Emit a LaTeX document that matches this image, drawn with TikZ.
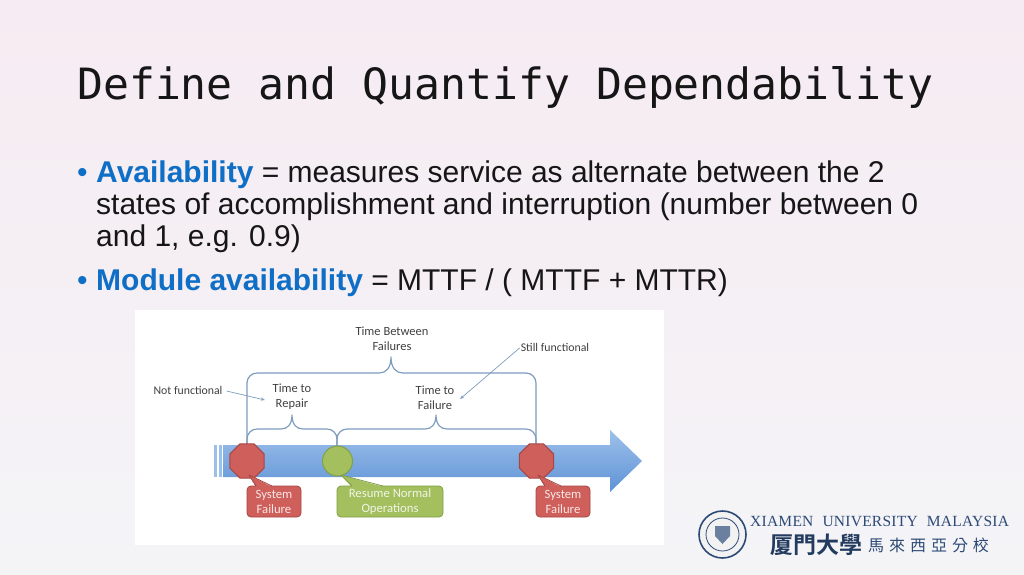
\documentclass[tikz,border=0pt]{standalone}
\usepackage{fontspec}
\setmainfont{Liberation Sans}
\newfontfamily\titlefont{DejaVu Sans Mono}
\newfontfamily\labelfont{Carlito}
\newfontfamily\logofont[LetterSpace=1.6]{Liberation Serif}
\newfontfamily\cjkbold{Noto Sans CJK TC Bold}
\newfontfamily\cjkthin[LetterSpace=31]{Noto Sans CJK TC}
\usepackage{xcolor}
\usepackage{tikz}
\usetikzlibrary{shapes.geometric, arrows.meta, positioning, calc}
\definecolor{bodyink}{HTML}{161616}
\definecolor{headblue}{HTML}{0F6FC6}
\definecolor{bracecol}{HTML}{7F9DBD}
\definecolor{failred}{HTML}{CE5F5B}
\definecolor{failedge}{HTML}{A64744}
\definecolor{resumegreen}{HTML}{A3BF5E}
\definecolor{resumeedge}{HTML}{82A046}
\definecolor{logoblue}{HTML}{2C4A76}
\definecolor{slidetop}{HTML}{F6EBF2}
\definecolor{slidebot}{HTML}{F4F4F7}
\definecolor{shafttop}{HTML}{9DC0EA}
\definecolor{shaftbot}{HTML}{5F93D6}
\tikzset{
  bodyline/.style={anchor=base west, inner sep=0pt, text=bodyink,
                font=\fontsize{30}{30}\selectfont},
  brace/.style={draw=bracecol, line width=1.2pt, line join=round},
  smalllabel/.style={align=center, inner sep=0pt, text=black!75,
                font=\labelfont\fontsize{12.5}{15}\selectfont},
  sidelabel/.style={smalllabel, font=\labelfont\fontsize{11.8}{15}\selectfont},
  pointer/.style={-{Stealth[length=1.5mm]}, draw=bracecol, line width=0.7pt},
  failstop/.style={regular polygon, regular polygon sides=8,
                draw=failedge, fill=failred, line width=1pt, minimum size=37pt, inner sep=0pt},
  resumestop/.style={circle, draw=resumeedge, fill=resumegreen, line width=1pt,
                minimum size=30pt, inner sep=0pt},
  failbox/.style={rectangle, draw=failedge, fill=failred, rounded corners=4pt, line width=0.8pt,
                minimum width=54pt, minimum height=31pt, align=center, inner sep=0pt, text=white!85!failred,
                font=\labelfont\fontsize{12.7}{15}\selectfont},
  resumebox/.style={rectangle, draw=resumeedge, fill=resumegreen, rounded corners=4pt, line width=0.8pt,
                minimum width=106pt, minimum height=31pt, align=center, inner sep=0pt, text=white!85!resumegreen,
                font=\labelfont\fontsize{12.7}{15}\selectfont},
}
\begin{document}
\begin{tikzpicture}[x=1pt, y=-1pt]
  \useasboundingbox (0,0) rectangle (1024,574);
  \shade[top color=slidetop, bottom color=slidebot] (0,0) rectangle (1024,574);

  % title and bullets
  \node[anchor=base west, inner sep=0pt, text=bodyink, font=\titlefont\fontsize{43.1}{43}\selectfont]
    (title) at (77,99) {Define and Quantify Dependability};
  \node[bodyline, text=headblue] (dot1) at (77,182) {•};
  \node[bodyline] (l1) at (96,182) {\textcolor{headblue}{\textbf{Availability}} = measures service as alternate between the 2};
  \node[bodyline] (l2) at (96,214) {states of accomplishment and interruption (number between 0};
  \node[bodyline] (l3) at (96,246) {and 1, e.g. 0.9)};
  \node[bodyline, text=headblue] (dot2) at (77,290) {•};
  \node[bodyline] (l4) at (96,290) {\textcolor{headblue}{\textbf{Module availability}} = MTTF / ( MTTF + MTTR)};

  % white panel
  \fill[white] (135,310) rectangle (664,545);

  % timeline
  \fill[shafttop] (214,445) rectangle (217,477);
  \fill[shafttop] (219,445) rectangle (222,477);
  \shade[top color=shafttop, bottom color=shaftbot]
    (223,445) -- (610,445) -- (610,430) -- (642,461) -- (610,492) -- (610,477) -- (223,477) -- cycle;

  \coordinate (fail1top) at (247,445);
  \coordinate (resumetop) at (337,447);
  \coordinate (fail2top) at (536,445);

  % braces
  \draw[brace] (fail1top) -- (247,383) arc[start angle=180, end angle=270, radius=10] -- (379,373)
    .. controls (386,373) and (391,368) .. (391,357)
    .. controls (391,368) and (396,373) .. (403,373) -- (526,373) arc[start angle=270, end angle=360, radius=10] -- (fail2top);
  \draw[brace] (fail1top) -- (247,439) arc[start angle=180, end angle=270, radius=10] -- (281,429)
    .. controls (287,429) and (292,425) .. (292,415)
    .. controls (292,425) and (297,429) .. (303,429) -- (327,429) arc[start angle=270, end angle=360, radius=10] -- (resumetop);
  \draw[brace] (resumetop) -- (337,439) arc[start angle=180, end angle=270, radius=10] -- (425,429)
    .. controls (431,429) and (436,425) .. (436,415)
    .. controls (436,425) and (441,429) .. (447,429) -- (526,429) arc[start angle=270, end angle=360, radius=10] -- (fail2top);

  \node[failstop] (fail1) at (247,461) {};
  \node[resumestop] (resume) at (337.5,461) {};
  \node[failstop] (fail2) at (536.5,461) {};

  % callouts
  \node[failbox] (sf1) at (274,501.5) {System\\Failure};
  \node[resumebox] (rno) at (390,501.5) {Resume Normal\\Operations};
  \node[failbox] (sf2) at (563,501.5) {System\\Failure};
  \fill[failred] (249,475) -- (256,487) -- (272,487) -- cycle;
  \fill[resumegreen] (341,475) -- (352,487) -- (383,487) -- cycle;
  \fill[failred] (538,475) -- (545,487) -- (561,487) -- cycle;
  \draw[failedge, line width=0.8pt] (249,475) -- (256,486) (249,475) -- (272,486);
  \draw[resumeedge, line width=0.8pt] (341,475) -- (352,486) (341,475) -- (383,486);
  \draw[failedge, line width=0.8pt] (538,475) -- (545,486) (538,475) -- (561,486);

  % labels
  \node[smalllabel] (tbf) at (392,339) {Time Between\\Failures};
  \node[smalllabel] (ttr) at (292,397) {Time to\\Repair};
  \node[smalllabel] (ttf) at (435,398) {Time to\\Failure};
  \node[sidelabel] (nf) at (188,390) {Not functional};
  \node[sidelabel] (sf) at (555,347) {Still functional};
  \coordinate (nfend) at (265,400);
  \coordinate (sfend) at (460,399);
  \draw[pointer] (nf.east) ++(4,1) -- (nfend);
  \draw[pointer] (sf.west) ++(-1,1) -- (sfend);

  % logo
  \node[circle, draw=logoblue, line width=1.6pt, fill=black!5, minimum size=47pt, inner sep=0pt] (seal) at (722.5,534.5) {};
  \node[circle, draw=logoblue, line width=0.8pt, minimum size=33pt, inner sep=0pt] (sealin) at (seal) {};
  \fill[logoblue!70] (715,526) -- (730,526) -- (730,536) -- (722.5,544) -- (715,536) -- cycle;
  \node[anchor=base west, inner sep=0pt, text=logoblue, font=\logofont\fontsize{15.5}{15.5}\selectfont]
    (xum) at (750,526.5) {XIAMEN\hspace{5pt} UNIVERSITY\hspace{5pt} MALAYSIA};
  \node[anchor=base west, inner sep=0pt, text=logoblue!80!black, font=\cjkbold\fontsize{23}{23}\selectfont]
    (xmu) at (770,553) {厦門大學};
  \node[anchor=base west, inner sep=0pt, text=logoblue, font=\cjkthin\fontsize{16}{16}\selectfont]
    (xmum) at (868,551) {馬來西亞分校};
\end{tikzpicture}
\end{document}
